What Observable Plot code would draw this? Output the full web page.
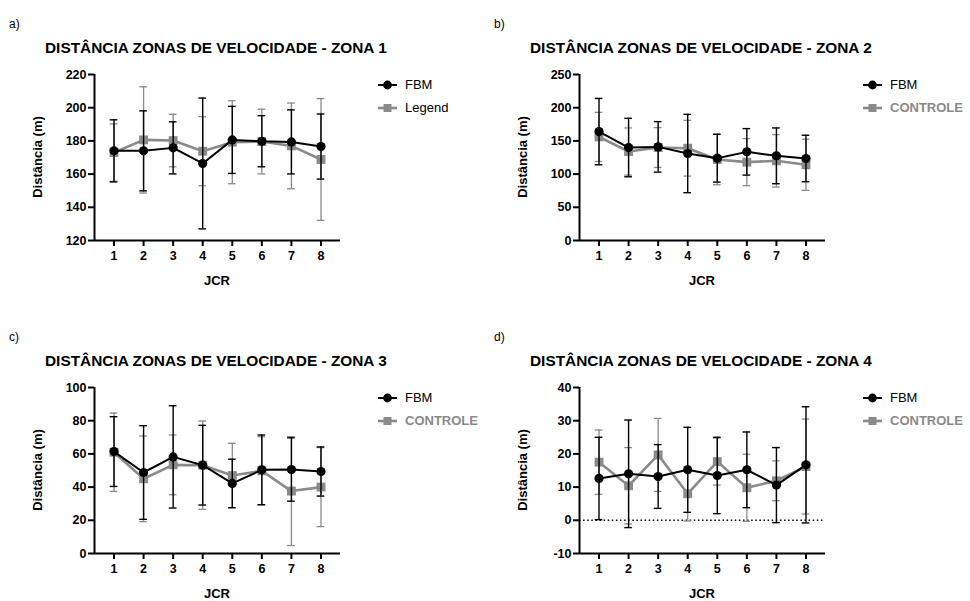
<!DOCTYPE html>
<html><head><meta charset="utf-8">
<script src="https://cdn.jsdelivr.net/npm/d3@7"></script>
<script src="https://cdn.jsdelivr.net/npm/@observablehq/plot@0.6"></script>
<style>
body{margin:0;background:#fff;font-family:Arial,"Liberation Sans",Helvetica,sans-serif;}
#root{position:relative;width:970px;height:601px;overflow:hidden;background:#fff;}
.panel{position:absolute;width:485px;height:300px;}
.panel svg.plotsvg{position:absolute;left:0;top:0;}
.t{position:absolute;white-space:nowrap;line-height:1;color:#000;}
</style></head><body><div id="root"></div>
<script>
// ---- data ----
const jcr = [1, 2, 3, 4, 5, 6, 7, 8];
const panelLetters = ["a)", "b)", "c)", "d)"];
const titles = [
  "DISTÂNCIA ZONAS DE VELOCIDADE - ZONA 1",
  "DISTÂNCIA ZONAS DE VELOCIDADE - ZONA 2",
  "DISTÂNCIA ZONAS DE VELOCIDADE - ZONA 3",
  "DISTÂNCIA ZONAS DE VELOCIDADE - ZONA 4"
];
const seriesA = "FBM";
const seriesBNames = ["Legend", "CONTROLE", "CONTROLE", "CONTROLE"];
const xLabel = "JCR";
const yLabel = "Distância (m)";

// Zona 1
const fbmMean1 = [174, 174, 175.8, 166.4, 180.6, 179.8, 179.4, 176.6];
const fbmSd1   = [18.7, 24.1, 15.7, 39.4, 20.2, 15.4, 19.3, 19.6];
const ctrlMean1 = [173, 180.6, 180.2, 173.8, 179.2, 179.6, 177, 168.8];
const ctrlSd1   = [17.3, 32, 15.8, 20.8, 25, 19.5, 25.8, 36.7];
const yTicks1 = [120, 140, 160, 180, 200, 220];

// Zona 2
const fbmMean2 = [164, 140, 141, 131, 124, 133.5, 127.5, 123.5];
const fbmSd2   = [50, 44, 38, 59, 36, 35, 42, 35];
const ctrlMean2 = [156, 134, 140, 139, 122, 118, 120, 114];
const ctrlSd2   = [37, 35.5, 30, 42, 38, 35.5, 39.5, 38.5];
const yTicks2 = [0, 50, 100, 150, 200, 250];

// Zona 3
const fbmMean3 = [61.4, 48.8, 58.2, 53.2, 42.2, 50.4, 50.6, 49.4];
const fbmSd3   = [21, 28.2, 30.8, 24, 14.6, 21, 19.1, 14.8];
const ctrlMean3 = [61, 45, 53.4, 53.2, 47, 49.8, 37.6, 40];
const ctrlSd3   = [23.6, 25.8, 18, 26.6, 19.4, 20.6, 32.8, 23.8];
const yTicks3 = [0, 20, 40, 60, 80, 100];

// Zona 4
const fbmMean4 = [12.6, 14, 13.2, 15.2, 13.5, 15.2, 10.6, 16.7];
const fbmSd4   = [12.4, 16.2, 9.6, 12.8, 11.5, 11.4, 11.3, 17.5];
const ctrlMean4 = [17.5, 10.4, 19.7, 8, 17.7, 9.8, 11.9, 16.2];
const ctrlSd4   = [9.7, 11.5, 11, 8.2, 7.1, 10.1, 6, 14.3];
const yTicks4 = [-10, 0, 10, 20, 30, 40];

// ---- drawing ----
const FONT = 'Arial,"Liberation Sans",Helvetica,sans-serif';
const BLACK = "#000";
const GRAY = "#8a8a8a";
const capW = 0.13;

const panels = [
  {fm: fbmMean1, fs: fbmSd1, cm: ctrlMean1, cs: ctrlSd1, ticks: yTicks1, zero: false, ox: 0, oy: 0},
  {fm: fbmMean2, fs: fbmSd2, cm: ctrlMean2, cs: ctrlSd2, ticks: yTicks2, zero: false, ox: 485, oy: 0},
  {fm: fbmMean3, fs: fbmSd3, cm: ctrlMean3, cs: ctrlSd3, ticks: yTicks3, zero: false, ox: 0, oy: 313},
  {fm: fbmMean4, fs: fbmSd4, cm: ctrlMean4, cs: ctrlSd4, ticks: yTicks4, zero: true, ox: 485, oy: 313}
];

const rows = (mean, sd) => jcr.map((j, i) => ({x: j, y: mean[i], lo: mean[i] - sd[i], hi: mean[i] + sd[i]}));

function seriesMarks(data, color, symbol, r, lw, ew) {
  return [
    Plot.ruleX(data, {x: "x", y1: "lo", y2: "hi", stroke: color, strokeWidth: ew}),
    Plot.ruleY(data, {y: "hi", x1: d => d.x - capW, x2: d => d.x + capW, stroke: color, strokeWidth: ew}),
    Plot.ruleY(data, {y: "lo", x1: d => d.x - capW, x2: d => d.x + capW, stroke: color, strokeWidth: ew}),
    Plot.line(data, {x: "x", y: "y", stroke: color, strokeWidth: lw}),
    Plot.dot(data, {x: "x", y: "y", symbol, r, fill: color, stroke: "none"})
  ];
}

const root = document.getElementById("root");

function addText(parent, txt, left, top, size, weight, color, extra) {
  const d = document.createElement("div");
  d.className = "t";
  d.textContent = txt;
  d.style.left = left + "px";
  d.style.top = top + "px";
  d.style.fontSize = size + "px";
  d.style.fontWeight = weight;
  d.style.color = color || "#000";
  if (extra) Object.assign(d.style, extra);
  parent.appendChild(d);
  return d;
}

panels.forEach((p, k) => {
  const div = document.createElement("div");
  div.className = "panel";
  div.style.left = p.ox + "px";
  div.style.top = p.oy + "px";
  root.appendChild(div);

  const yDom = [p.ticks[0], p.ticks[p.ticks.length - 1]];
  const fbm = rows(p.fm, p.fs);
  const ctrl = rows(p.cm, p.cs);

  const marks = [];
  if (p.zero) marks.push(Plot.ruleY([0], {stroke: BLACK, strokeWidth: 1.5, strokeDasharray: "1.5,2.6"}));
  marks.push(...seriesMarks(ctrl, GRAY, "square", 5, 2.6, 1.3));
  marks.push(...seriesMarks(fbm, BLACK, "circle", 4.6, 2, 1.4));
  marks.push(
    Plot.ruleX([0.34], {stroke: BLACK, strokeWidth: 2}),
    Plot.ruleY([yDom[0]], {stroke: BLACK, strokeWidth: 2}),
    Plot.axisY({ticks: p.ticks, tickSize: 6, tickPadding: 2, strokeWidth: 2, fontSize: 12.5, fontWeight: "bold", label: null, tickFormat: d => String(d)}),
    Plot.axisX({ticks: jcr, tickSize: 6, tickPadding: 5, strokeWidth: 2, fontSize: 12.5, fontWeight: "bold", label: null, tickFormat: d => String(d)})
  );

  const svg = Plot.plot({
    width: 485, height: 300,
    marginLeft: 94, marginTop: 74, marginBottom: 60, marginRight: 145,
    x: {domain: [0.34, 8.66]},
    y: {domain: yDom},
    style: {fontFamily: FONT, fontSize: "12.5px", fontWeight: "bold", color: "#000", background: "transparent", overflow: "visible"},
    marks
  });
  svg.classList.add("plotsvg");
  div.appendChild(svg);

  // texts
  addText(div, panelLetters[k], 9, 18, 12, "normal");
  addText(div, titles[k], 45, 40, 15.4, "bold");
  addText(div, xLabel, 217, 274, 13, "bold", "#000", {transform: "translateX(-50%)"});
  addText(div, yLabel, 37, 157, 13, "bold", "#000", {transform: "translate(-50%,-50%) rotate(-90deg)"});

  // legend
  const items = [
    {name: seriesA, color: BLACK, sym: "circle", weight: "normal", tcolor: "#000"},
    {name: seriesBNames[k], color: GRAY, sym: "square", weight: k === 0 ? "normal" : "bold", tcolor: k === 0 ? "#000" : GRAY}
  ];
  items.forEach((it, j) => {
    const cy = 85 + j * 23;
    const ns = "http://www.w3.org/2000/svg";
    const s = document.createElementNS(ns, "svg");
    s.setAttribute("width", 22); s.setAttribute("height", 12);
    s.style.position = "absolute"; s.style.left = "377px"; s.style.top = (cy - 6) + "px";
    const ln = document.createElementNS(ns, "line");
    ln.setAttribute("x1", 1); ln.setAttribute("x2", 20); ln.setAttribute("y1", 6); ln.setAttribute("y2", 6);
    ln.setAttribute("stroke", it.color); ln.setAttribute("stroke-width", it.sym === "circle" ? 2 : 2.6);
    s.appendChild(ln);
    if (it.sym === "circle") {
      const c = document.createElementNS(ns, "circle");
      c.setAttribute("cx", 10.5); c.setAttribute("cy", 6); c.setAttribute("r", 4.4); c.setAttribute("fill", it.color);
      s.appendChild(c);
    } else {
      const r = document.createElementNS(ns, "rect");
      r.setAttribute("x", 6.5); r.setAttribute("y", 2); r.setAttribute("width", 8); r.setAttribute("height", 8); r.setAttribute("fill", it.color);
      s.appendChild(r);
    }
    div.appendChild(s);
    addText(div, it.name, 405, cy - 7, 13, it.weight, it.tcolor);
  });
});
</script></body></html>
